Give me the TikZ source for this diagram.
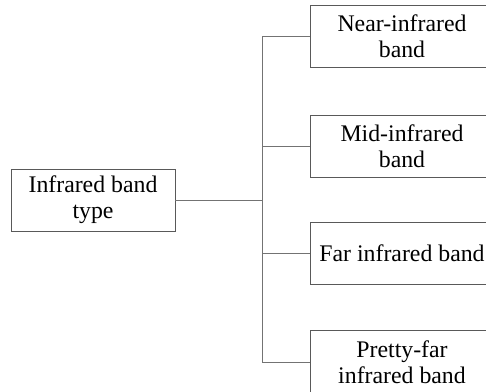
\documentclass[tikz,border=0pt]{standalone}
\usepackage{fontspec}
\setmainfont{Liberation Serif}
\usetikzlibrary{positioning}

\begin{document}
\begin{tikzpicture}[x=1pt,y=-1pt,
  bandbox/.style={draw=black!65,line width=0.8pt,minimum width=184pt,
    minimum height=62pt,align=center,inner sep=2pt,
    font=\fontsize{23.8}{26}\selectfont},
  link/.style={draw=black!55,line width=0.8pt}]
\useasboundingbox (0,0) rectangle (486,391);
\clip (0,0) rectangle (486,391);

% Root and the four band types.
\node[bandbox,minimum width=164pt] (root) at (93,200) {Infrared band\\type};
\node[bandbox] (near) at (402,36.5) {Near-infrared\\band};
\node[bandbox] (mid) at (402,146) {Mid-infrared\\band};
\node[bandbox] (far) at (402,253) {Far infrared band};
\node[bandbox,minimum height=64pt] (pfar) at (402,362) {Pretty-far\\infrared band};

% Tree connectors.
\coordinate (trunk) at (262,200);
\draw[link] (root.east) -- (trunk);
\draw[link] (near.west) -| (trunk);
\draw[link] (mid.west) -| (trunk);
\draw[link] (far.west) -| (trunk);
\draw[link] (pfar.west) -| (trunk);

\end{tikzpicture}
\end{document}
